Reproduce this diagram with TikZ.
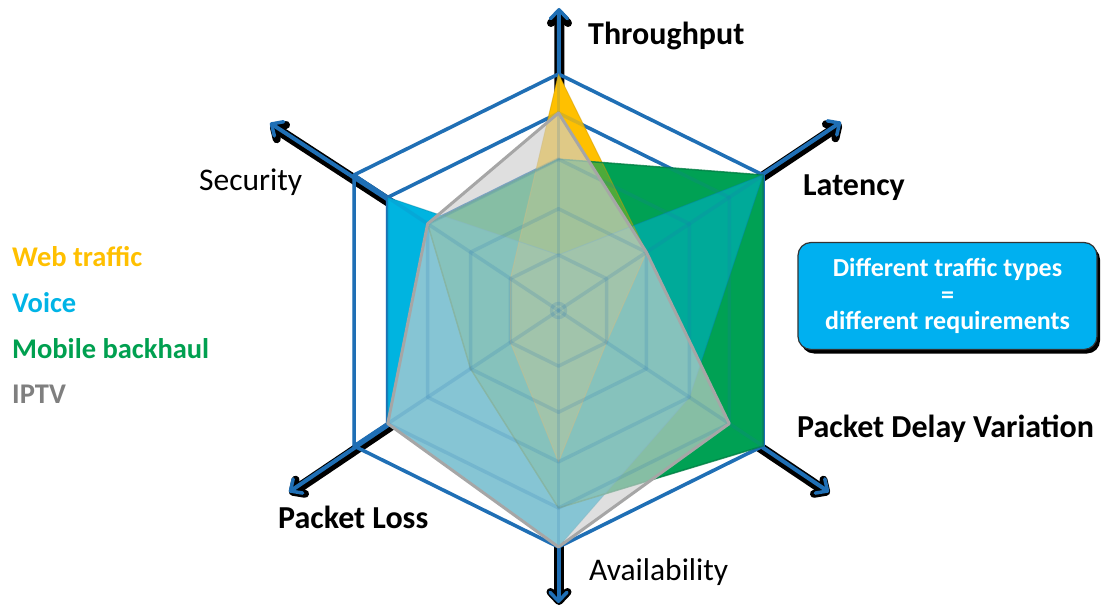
\documentclass[tikz,border=0pt]{standalone}
\usepackage{fontspec}
\setmainfont{Carlito}
\usetikzlibrary{calc,arrows.meta,shadows}
\definecolor{gridblue}{HTML}{1F6FB5}
\definecolor{webY}{HTML}{FFC000}
\definecolor{voiceC}{HTML}{00B4E0}
\definecolor{mobG}{HTML}{00A154}
\definecolor{mobGdark}{HTML}{007F44}
\definecolor{iptvFill}{HTML}{CFCFCF}
\definecolor{iptvLine}{HTML}{A6A6A6}
\definecolor{iptvText}{HTML}{7F7F7F}
\definecolor{boxC}{HTML}{00B0F0}
\definecolor{legC}{HTML}{00B4E6}
\definecolor{legG}{HTML}{00A050}
\newcommand{\rdpath}[6]{($(O)!#1!(V0)$) -- ($(O)!#2!(V1)$) -- ($(O)!#3!(V2)$) -- ($(O)!#4!(V3)$) -- ($(O)!#5!(V4)$) -- ($(O)!#6!(V5)$) -- cycle}
\newcommand{\ringpath}[1]{\rdpath{#1}{#1}{#1}{#1}{#1}{#1}}
\begin{document}
\begin{tikzpicture}[x=1pt,y=-1pt,
  gridln/.style={draw=gridblue, line width=3.5pt, line join=round},
  axshadow/.style={draw=black, line width=10pt, -{Straight Barb[length=9pt,width=17pt,line width=8pt,round]}},
  axline/.style={draw=gridblue, line width=4pt, -{Straight Barb[length=9pt,width=17pt,line width=3.5pt,round]}},
  axlab/.style={font=\fontsize{32}{36}\selectfont\bfseries, text=black, inner sep=0pt},
  axlabl/.style={font=\fontsize{31.5}{36}\selectfont, text=black, inner sep=0pt},
  leglab/.style={font=\fontsize{28.5}{32}\selectfont\bfseries, inner sep=0pt, anchor=base west},
  msgbox/.style={rounded corners=13pt, fill=boxC, draw=black!80, line width=1.2pt,
    minimum width=299pt, minimum height=107pt, inner sep=0pt, align=center, text=white,
    font=\fontsize{26}{26.7}\selectfont\bfseries,
    drop shadow={shadow xshift=3pt, shadow yshift=-4pt, opacity=1, fill=black}}
]
\fill[white] (0,0) rectangle (1101,607);
\useasboundingbox (0,0) rectangle (1101,607);

% geometry
\coordinate (O) at (558.5,310.5);
\coordinate (V0) at (558.5,74);
\coordinate (V1) at (763,175);
\coordinate (V2) at (763,446);
\coordinate (V3) at (558.5,547);
\coordinate (V4) at (354,446);
\coordinate (V5) at (354,175);
\coordinate (T0) at (559,8);
\coordinate (T1) at (841,122);
\coordinate (T2) at (829,492);
\coordinate (T3) at (558.5,603);
\coordinate (T4) at (289,492);
\coordinate (T5) at (270,123);

% axes
\foreach \k in {0,...,5} \draw[axshadow] ([shift={(0.5,2)}]O) -- ([shift={(0.5,2)}]T\k);
\foreach \k in {0,...,5} \draw[axline] (O) -- (T\k);

% grid (beneath)
\foreach \r in {1,0.835,0.64,0.43,0.235} \draw[gridln] \ringpath{\r};
\foreach \k in {0,...,5} \draw[gridln] (O) -- (V\k);
\draw[gridln] (O) circle[radius=7];

% series, pass 1 (opaque)
\fill[webY] \rdpath{1}{0.43}{0.235}{0.64}{0.235}{0.235};
\fill[mobG] \rdpath{0.64}{1}{1}{0.835}{0.43}{0.64};
\fill[voiceC] \rdpath{0.235}{1}{0.64}{1}{0.835}{0.835};
% pass 2 (blending of overlaps)
\fill[mobG, fill opacity=0.5] \rdpath{0.64}{1}{1}{0.835}{0.43}{0.64};
\fill[webY, fill opacity=0.3] \rdpath{1}{0.43}{0.235}{0.64}{0.235}{0.235};
% outlines
\draw[webY!80!black, line width=1pt, draw opacity=0.45, line join=round] \rdpath{1}{0.43}{0.235}{0.64}{0.235}{0.235};
\draw[mobGdark, line width=1.5pt, draw opacity=0.8, line join=round] \rdpath{0.64}{1}{1}{0.835}{0.43}{0.64};
\draw[voiceC!75!black, line width=1pt, draw opacity=0.45, line join=round] \rdpath{0.235}{1}{0.64}{1}{0.835}{0.835};
% IPTV
\fill[iptvFill, fill opacity=0.65] \rdpath{0.835}{0.43}{0.835}{1}{0.835}{0.64};

% grid overlay (faint)
\foreach \r in {1,0.835,0.64,0.43,0.235} \draw[gridln, draw opacity=0.17] \ringpath{\r};
\foreach \k in {0,...,5} \draw[gridln, draw opacity=0.17] (O) -- (V\k);
\draw[gridln, draw opacity=0.17] (O) circle[radius=7];

\draw[iptvLine, line width=3pt, line join=round] \rdpath{0.835}{0.43}{0.835}{1}{0.835}{0.64};

% axis labels
\node[axlab, anchor=base west] (lThr) at (588,45) {Throughput};
\node[axlab, anchor=base west] (lLat) at (803,196) {Latency};
\node[axlab, anchor=base west] (lPdv) at (797,437) {Packet Delay Variation};
\node[axlab, anchor=base west] (lLoss) at (278,528) {Packet Loss};
\node[axlabl, anchor=base west] (lSec) at (199,191) {Security};
\node[axlabl, anchor=base west] (lAv) at (589,580) {Availability};

% legend
\node[leglab, text=webY] (lgW) at (12,266) {Web traffic};
\node[leglab, text=legC] (lgV) at (12,312) {Voice};
\node[leglab, text=legG] (lgM) at (12,358) {Mobile backhaul};
\node[leglab, text=iptvText] (lgI) at (12,403.5) {IPTV};

% message box
\node[msgbox] (msg) at (947.5,296) {Different traffic types\\=\\different requirements};
\end{tikzpicture}
\end{document}
